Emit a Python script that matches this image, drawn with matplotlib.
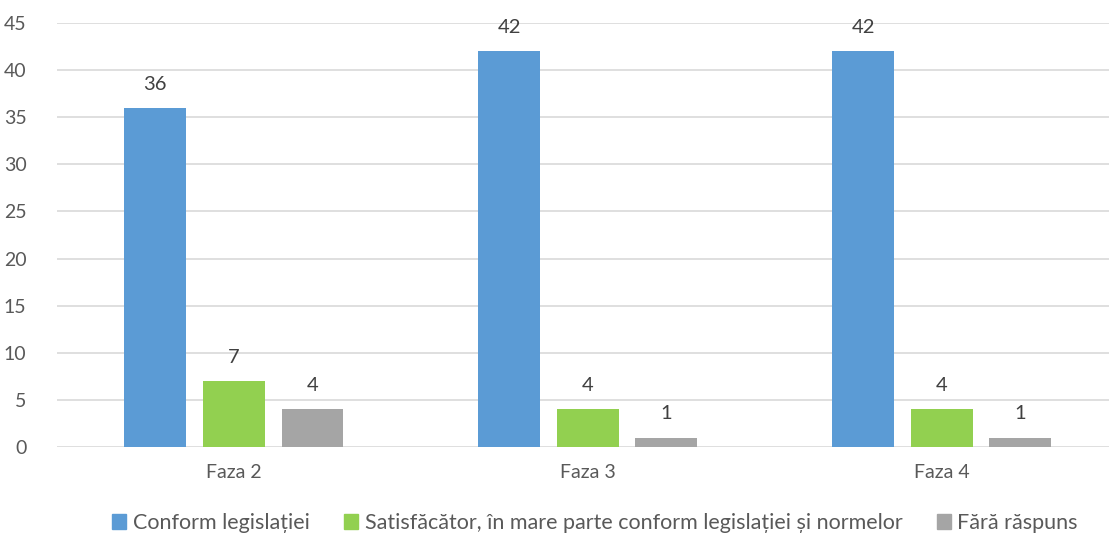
import matplotlib
matplotlib.use("Agg")
import matplotlib.pyplot as plt
import numpy as np
from matplotlib.patches import Patch

categories = ["Faza 2", "Faza 3", "Faza 4"]
series_names = ["Conform legislației",
                "Satisfăcător, în mare parte conform legislației și normelor",
                "Fără răspuns"]
conform = [36, 42, 42]
satisfacator = [7, 4, 4]
fara = [4, 1, 1]
yticks = [0, 5, 10, 15, 20, 25, 30, 35, 40, 45]

colors = ["#5B9BD5", "#92D050", "#A5A5A5"]
plt.rcParams['font.family'] = ['Lato', 'DejaVu Sans']

fig = plt.figure(figsize=(11.09, 5.42), dpi=100)
ax = fig.add_axes([57/1109, 1 - 447/542, 1 - 57/1109 + 0.007, (447 - 23)/542])

x = np.arange(len(categories))
width = 0.175
offs = [-0.222, 0, 0.222]
for vals, off, col, name in zip([conform, satisfacator, fara], offs, colors, series_names):
    bars = ax.bar(x + off, vals, width, color=col, label=name, zorder=3)
    for b, v in zip(bars, vals):
        ax.annotate(str(v), (b.get_x() + b.get_width()/2, v), xytext=(0, 11),
                    textcoords="offset points", ha="center", va="bottom",
                    fontsize=14.5, color="#404040")

ax.set_xlim(-0.5, 2.495)
ax.set_ylim(0, 45)
ax.set_yticks(yticks)
ax.set_xticks(x)
ax.set_xticklabels(categories)
ax.grid(axis="y", color="#D9D9D9", linewidth=1.2, zorder=0)
for s in ax.spines.values():
    s.set_visible(False)
ax.tick_params(axis="both", length=0, labelsize=14, colors="#595959")
ax.tick_params(axis="x", pad=12)
ax.tick_params(axis="y", pad=22)

handles = [Patch(color=c) for c in colors]
fig.legend(handles, series_names, loc="center", bbox_to_anchor=(595/1109, 1 - 523/542),
           ncol=3, frameon=False, fontsize=15.5, handlelength=0.65, handleheight=0.65,
           handletextpad=0.3, columnspacing=1.6, labelcolor="#595959")

fig.savefig("out.png", dpi=100)
